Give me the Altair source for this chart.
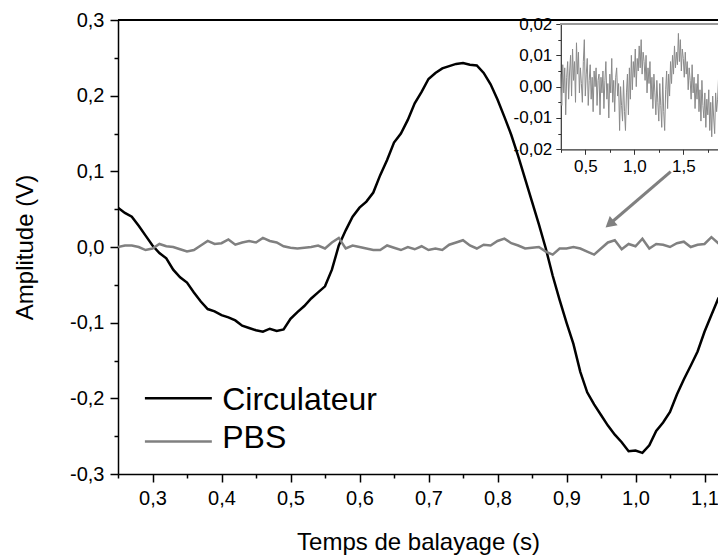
import altair as alt
import pandas as pd

# ---------------- data ----------------
t_start = 0.25
t_step = 0.01
circulateur = [
    0.052, 0.045, 0.040, 0.028, 0.015, 0.002, -0.008, -0.015, -0.030, -0.040,
    -0.047, -0.060, -0.072, -0.082, -0.085, -0.090, -0.093, -0.097, -0.104, -0.107,
    -0.110, -0.112, -0.108, -0.111, -0.109, -0.095, -0.086, -0.078, -0.068, -0.060,
    -0.052, -0.030, 0.002, 0.022, 0.040, 0.052, 0.060, 0.072, 0.095, 0.115,
    0.138, 0.150, 0.168, 0.190, 0.205, 0.222, 0.230, 0.236, 0.239, 0.242,
    0.243, 0.241, 0.240, 0.230, 0.215, 0.195, 0.172, 0.148, 0.120, 0.090,
    0.060, 0.030, -0.002, -0.038, -0.070, -0.100, -0.128, -0.165, -0.192, -0.208,
    -0.222, -0.236, -0.248, -0.258, -0.270, -0.269, -0.272, -0.262, -0.243, -0.232,
    -0.218, -0.195, -0.175, -0.157, -0.138, -0.112, -0.090, -0.068, -0.055,
]
pbs = [
    0.000, 0.002, 0.002, 0.000, -0.004, -0.002, 0.004, 0.001, 0.000, -0.003,
    -0.006, -0.004, 0.002, 0.008, 0.004, 0.005, 0.010, 0.003, 0.006, 0.008,
    0.006, 0.012, 0.008, 0.006, 0.001, -0.001, -0.002, -0.001, 0.000, 0.002,
    -0.002, 0.006, 0.012, -0.002, 0.002, 0.000, -0.002, -0.004, -0.004, 0.002,
    -0.001, -0.004, 0.000, -0.003, 0.001, -0.004, -0.002, -0.004, 0.003, 0.006,
    0.009, 0.002, -0.002, 0.003, 0.002, 0.008, 0.011, 0.005, 0.002, -0.002,
    -0.001, 0.000, -0.006, -0.010, -0.002, -0.002, 0.000, -0.002, -0.006, -0.010,
    -0.002, 0.006, 0.009, -0.003, 0.004, 0.001, 0.011, -0.002, 0.004, 0.003,
    0.000, 0.005, 0.007, 0.000, 0.003, 0.004, 0.013, 0.005, 0.004,
]
inset_start = 0.25
inset_step = 0.01
pbs_zoom = [
    0.004, -0.006, 0.007, -0.002, 0.006, -0.009, 0.003, 0.008, -0.004, 0.005,
    0.010, -0.003, 0.012, 0.002, 0.008, -0.005, 0.014, 0.004, 0.011, -0.002,
    0.006, 0.001, -0.005, 0.008, 0.015, -0.003, 0.004, 0.009, -0.006, 0.002,
    0.007, -0.004, 0.003, -0.008, 0.005, 0.000, 0.006, -0.006, 0.002, 0.004,
    -0.009, 0.003, -0.002, 0.005, -0.007, 0.002, 0.008, -0.004, 0.001, -0.010,
    0.004, -0.002, 0.009, -0.005, 0.002, -0.008, 0.003, 0.006, -0.003, 0.001,
    -0.014, 0.000, -0.006, -0.011, 0.002, -0.008, -0.014, -0.002, 0.004, -0.009,
    0.006, -0.004, 0.010, -0.001, 0.008, 0.003, 0.012, 0.000, 0.009, 0.005,
    0.013, 0.006, 0.015, 0.004, 0.011, 0.008, 0.002, 0.010, -0.002, 0.006,
    0.001, 0.008, -0.004, 0.003, -0.007, 0.004, -0.002, -0.009, 0.002, -0.005,
    -0.011, 0.001, -0.006, -0.013, 0.003, -0.008, -0.014, -0.001, 0.005, -0.007,
    0.004, -0.003, 0.008, 0.001, 0.010, 0.004, 0.013, 0.006, 0.011, 0.007,
    0.017, 0.008, 0.015, 0.005, 0.012, 0.009, 0.003, 0.011, 0.004, 0.008,
    -0.001, 0.006, 0.002, -0.004, 0.007, -0.002, 0.003, -0.007, 0.001, -0.004,
    0.004, -0.008, -0.001, -0.011, 0.002, -0.006, -0.010, -0.002, -0.013, -0.004,
    -0.009, -0.001, -0.014, -0.005, -0.016, -0.003, -0.010, -0.015, -0.002, -0.008,
    -0.004, 0.003, -0.006, 0.006, 0.010, 0.002, 0.012, 0.005, 0.009,
]

series_names = [" Circulateur", "PBS"]
series_colors = ["#000000", "#808080"]
legend_line_x = [0.289, 0.386]
legend_line_y = [-0.200, -0.257]
legend_text_x = [0.401, 0.401]
legend_text_y = [-0.216, -0.266]

arrow_tail = [1.051, 0.0995]
arrow_head = [0.9625, 0.0304]

# ---------------- layout ----------------
W, H = 600, 454
x_domain = [0.25, 0.25 + W / 690]
y_domain = [-0.3, 0.3]
x_ticks = [0.25, 0.3, 0.35, 0.4, 0.45, 0.5, 0.55, 0.6, 0.65, 0.7, 0.75, 0.8,
           0.85, 0.9, 0.95, 1.0, 1.05, 1.1]
y_ticks = [-0.3, -0.25, -0.2, -0.15, -0.1, -0.05, 0.0, 0.05, 0.1, 0.15, 0.2, 0.25, 0.3]

inset_left, inset_top, inset_bottom = 442.8, 4.0, 129.3
inset_x_domain = [0.25, 0.25 + (W - inset_left) / 98]
inset_y_domain = [-0.02, 0.02]
inset_x_ticks = [0.25, 0.5, 0.75, 1.0, 1.25, 1.5, 1.75]
inset_y_ticks = [-0.02, -0.015, -0.01, -0.005, 0.0, 0.005, 0.01, 0.015, 0.02]

FONT = "Liberation Sans"

t_main = [round(t_start + i * t_step, 3) for i in range(len(circulateur))]
t_inset = [round(inset_start + i * inset_step, 3) for i in range(len(pbs_zoom))]

df_c = pd.DataFrame({"t": t_main, "v": circulateur})
df_p = pd.DataFrame({"t": t_main, "v": pbs})
df_i = pd.DataFrame({"t": t_inset, "v": pbs_zoom})
df_leg = pd.DataFrame({
    "name": series_names, "color": series_colors,
    "x1": [legend_line_x[0]] * 2, "x2": [legend_line_x[1]] * 2,
    "ly": legend_line_y, "tx": legend_text_x, "ty": legend_text_y,
})
df_arrow = pd.DataFrame({"x": [arrow_tail[0]], "y": [arrow_tail[1]],
                         "x2": [arrow_head[0]], "y2": [arrow_head[1]]})


def lab(mult, fmt):
    return (f"abs(datum.value*{mult} - round(datum.value*{mult})) < 0.001 ? "
            f"replace(replace(format(datum.value, '{fmt}'), '.', ','), '\u2212', '-') : ''")


def tsize(mult, big, small):
    return {"condition": {"test": f"abs(datum.value*{mult} - round(datum.value*{mult})) < 0.001",
                          "value": big}, "value": small}


def xs():
    return alt.Scale(domain=x_domain, nice=False, zero=False)


def ys():
    return alt.Scale(domain=y_domain, nice=False, zero=False)


x_axis = alt.Axis(values=x_ticks, labelExpr=lab(10, ".1f"), tickSize=tsize(10, 8, 4),
                  title="Temps de balayage (s)", orient="bottom", grid=False,
                  labelFontSize=20, titleFontSize=24, labelPadding=6, titlePadding=22,
                  domainColor="black", tickColor="black", domainWidth=1.5, tickWidth=1.5,
                  labelFont=FONT, titleFont=FONT, labelColor="black", titleColor="black",
                  titleFontWeight="normal", labelFlush=False, labelOverlap=False)
y_axis = alt.Axis(values=y_ticks, labelExpr=lab(10, ".1f"), tickSize=tsize(10, 8, 4),
                  title="Amplitude (V)", orient="left", grid=False,
                  labelFontSize=20, titleFontSize=24, labelPadding=6, titlePadding=32,
                  domainColor="black", tickColor="black", domainWidth=1.5, tickWidth=1.5,
                  labelFont=FONT, titleFont=FONT, labelColor="black", titleColor="black",
                  titleFontWeight="normal", labelFlush=False, labelOverlap=False)

black_line = alt.Chart(df_c).mark_line(color="#000000", strokeWidth=2.5, clip=True).encode(
    x=alt.X("t:Q", scale=xs(), axis=x_axis),
    y=alt.Y("v:Q", scale=ys(), axis=y_axis),
)
gray_line = alt.Chart(df_p).mark_line(color="#808080", strokeWidth=2.5, clip=True).encode(
    x=alt.X("t:Q", scale=xs(), axis=None),
    y=alt.Y("v:Q", scale=ys(), axis=None),
)
top_frame = alt.Chart(df_c).mark_rule(color="black", strokeWidth=1.5).encode(
    x=alt.value(0), x2=alt.value(W), y=alt.value(0))

leg_lines = alt.Chart(df_leg).mark_rule(strokeWidth=2.5).encode(
    x=alt.X("x1:Q", scale=xs(), axis=None), x2="x2:Q",
    y=alt.Y("ly:Q", scale=ys(), axis=None),
    color=alt.Color("color:N", scale=None),
)
leg_text = alt.Chart(df_leg).mark_text(align="left", baseline="alphabetic", fontSize=32,
                                       font=FONT, color="black").encode(
    x=alt.X("tx:Q", scale=xs(), axis=None),
    y=alt.Y("ty:Q", scale=ys(), axis=None),
    text="name:N",
)
arrow_line = alt.Chart(df_arrow).mark_rule(color="#808080", strokeWidth=3).encode(
    x=alt.X("x:Q", scale=xs(), axis=None), x2="x2:Q",
    y=alt.Y("y:Q", scale=ys(), axis=None), y2="y2:Q",
)
arrow_headm = alt.Chart(df_arrow).mark_point(shape="triangle-up", filled=True, color="#808080",
                                             size=150, angle=230, opacity=1).encode(
    x=alt.X("x2:Q", scale=xs(), axis=None),
    y=alt.Y("y2:Q", scale=ys(), axis=None),
)

ixs = alt.Scale(domain=inset_x_domain, range=[inset_left, W], nice=False, zero=False)
iys = alt.Scale(domain=inset_y_domain, range=[inset_bottom, inset_top], nice=False, zero=False)

inset_line = alt.Chart(df_i).mark_line(color="#8a8a8a", strokeWidth=1, clip=True).encode(
    x=alt.X("t:Q", scale=ixs,
            axis=alt.Axis(values=inset_x_ticks, labelExpr=lab(2, ".1f"), tickSize=tsize(2, 5, 3),
                          orient="bottom", offset=-(H - inset_bottom), title=None, grid=False,
                          labelFontSize=17, labelPadding=4, labelFont=FONT, labelColor="black",
                          domainColor="#333333", tickColor="#333333", domainWidth=1.2,
                          labelFlush=False, labelOverlap=False)),
    y=alt.Y("v:Q", scale=iys,
            axis=alt.Axis(values=inset_y_ticks, labelExpr=lab(100, ".2f"), tickSize=tsize(100, 5, 3),
                          orient="left", offset=-inset_left, title=None, grid=False,
                          labelFontSize=17, labelPadding=4, labelFont=FONT, labelColor="black",
                          domainColor="#333333", tickColor="#333333", domainWidth=1.2,
                          labelFlush=False, labelOverlap=False)),
)
inset_top_frame = alt.Chart(df_i).mark_rule(color="#9a9a9a", strokeWidth=1.5).encode(
    x=alt.value(inset_left), x2=alt.value(W), y=alt.value(inset_top))

chart = alt.layer(
    black_line, gray_line, top_frame, leg_lines, leg_text, arrow_line, arrow_headm,
    inset_line, inset_top_frame,
).resolve_scale(x="independent", y="independent").properties(
    width=W, height=H,
    autosize=alt.AutoSizeParams(type="none"),
    padding={"left": 110, "top": 12, "right": 0, "bottom": 84},
    background="white",
).configure_view(stroke=None)

chart.save("out.html", embed_options={"renderer": "svg", "actions": False})
